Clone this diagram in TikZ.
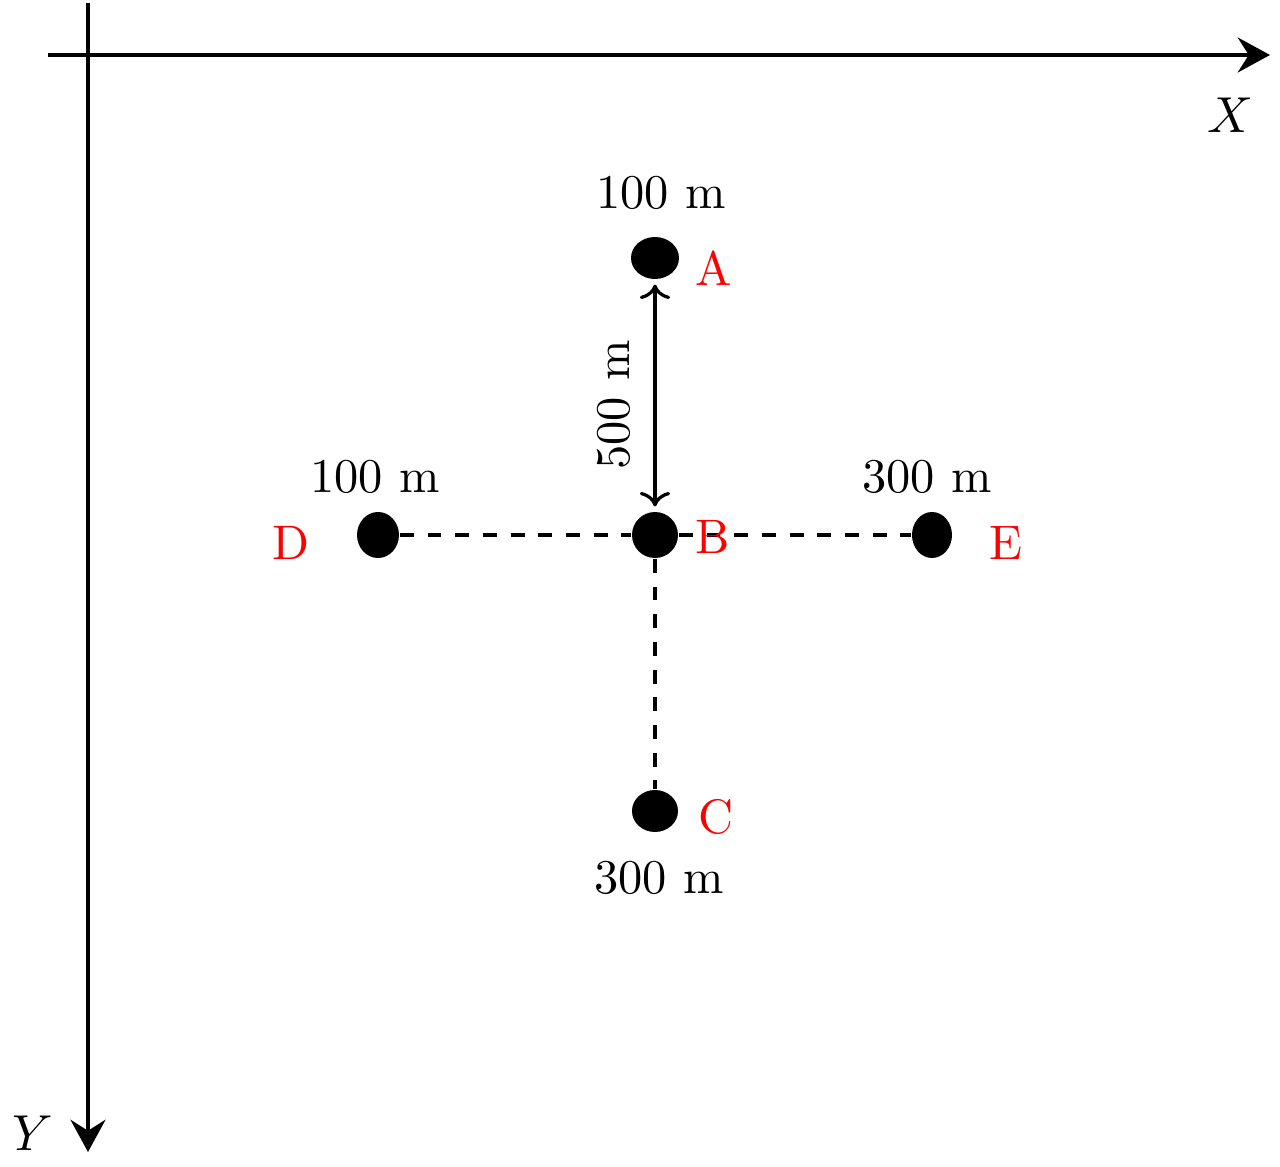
\documentclass[tikz,border=0pt]{standalone}
\usetikzlibrary{arrows.meta,shapes.geometric}
\begin{document}
\begin{tikzpicture}[x=0.2167pt,y=-0.2167pt,
  axis/.style={line width=0.75pt,-{Stealth[length=7pt,width=7.6pt,inset=2.4pt]}},
  dot/.style={ellipse,fill=black,inner sep=0pt},
  lbl/.style={text=red,font=\fontsize{10.5}{12}\selectfont},
  dist/.style={font=\fontsize{10.5}{12}\selectfont},
  conn/.style={line width=0.75pt,dashed}]
\useasboundingbox (0,0) rectangle (1280,1167);
% axes
\coordinate (xs) at (48,55);
\coordinate (xe) at (1270,55);
\coordinate (ys) at (88,3);
\coordinate (ye) at (88,1152);
\draw[axis] (xs) -- (xe);
\draw[axis] (ys) -- (ye);
\node[dist] (xl) at (1230,115) {$X$};
\node[dist] (yl) at (33,1133) {$Y$};
% points
\node[dot,minimum width=48*0.2167pt,minimum height=42*0.2167pt] (A) at (655,258) {};
\node[dot,minimum width=46*0.2167pt,minimum height=46*0.2167pt] (B) at (655,535) {};
\node[dot,minimum width=46*0.2167pt,minimum height=42*0.2167pt] (C) at (655,811) {};
\node[dot,minimum width=42*0.2167pt,minimum height=46*0.2167pt] (D) at (378,535) {};
\node[dot,minimum width=40*0.2167pt,minimum height=46*0.2167pt] (E) at (932,535) {};
% connectors
\draw[conn] (D) -- (B);
\draw[conn] (B) -- (E);
\draw[conn] (B) -- (C);
\draw[line width=0.7pt,<->,shorten <=1pt,shorten >=1pt] (A) -- (B);
\node[dist,rotate=90] (dAB) at (614,405) {500 m};
% labels
\node[lbl] (lA) at (714,268) {A};
\node[lbl] (lB) at (713,537) {B};
\node[lbl] (lC) at (716,817) {C};
\node[lbl] (lD) at (291,543) {D};
\node[lbl] (lE) at (1006,543) {E};
\node[dist] (tA) at (661,193) {100 m};
\node[dist] (tD) at (375,477) {100 m};
\node[dist] (tE) at (927,477) {300 m};
\node[dist] (tC) at (659,878) {300 m};
\end{tikzpicture}
\end{document}
